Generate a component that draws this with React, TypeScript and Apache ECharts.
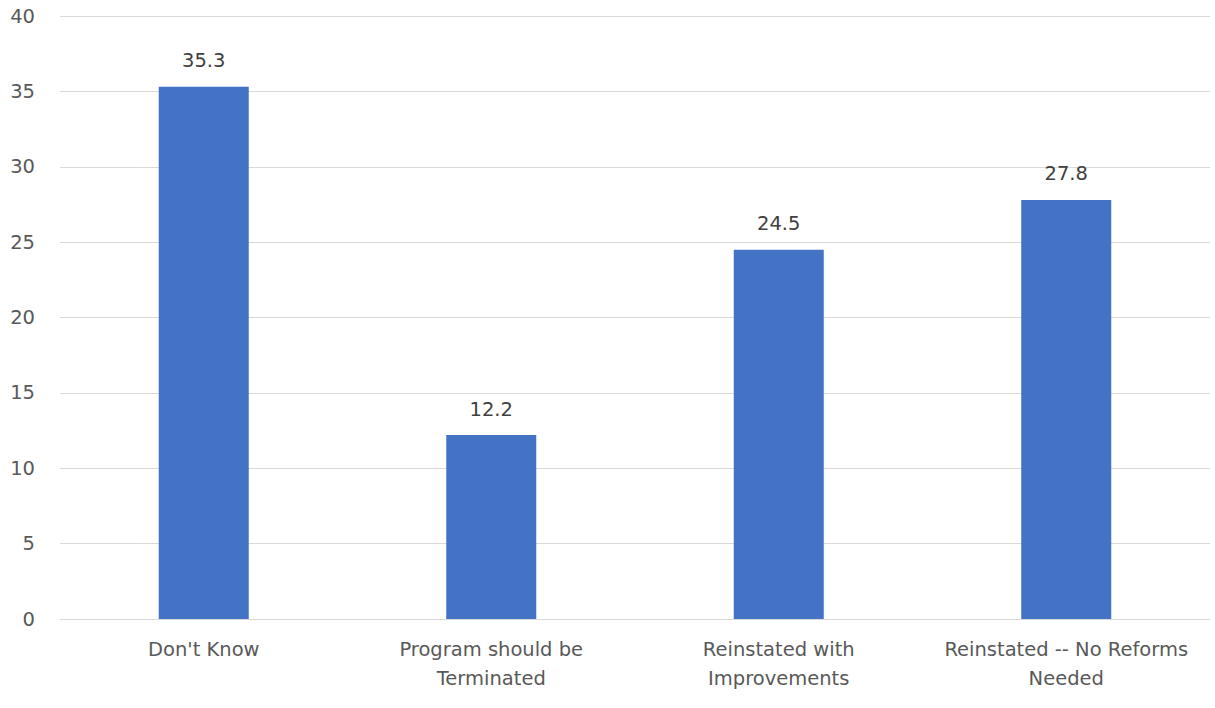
import React, { useEffect, useRef } from "react";
import * as echarts from "echarts";

const categories = [
  "Don't Know",
  "Program should be\nTerminated",
  "Reinstated with\nImprovements",
  "Reinstated -- No Reforms\nNeeded",
];
const values = [35.3, 12.2, 24.5, 27.8];
const yTicks = { min: 0, max: 40, interval: 5 };

export default function App() {
  const ref = useRef<HTMLDivElement>(null);
  useEffect(() => {
    document.body.style.margin = "0";
    const chart = echarts.init(ref.current!, undefined, { renderer: "svg" });
    const font = "'DejaVu Sans', 'Open Sans', sans-serif";
    chart.setOption({
      animation: false,
      backgroundColor: "#ffffff",
      grid: { left: 60, right: 5, top: 16, bottom: 89, containLabel: false },
      xAxis: {
        type: "category",
        data: categories,
        axisLine: { show: true, lineStyle: { color: "#d9d9d9", width: 1 } },
        axisTick: { show: false },
        axisLabel: {
          color: "#595959",
          fontSize: 19.5,
          fontFamily: font,
          lineHeight: 29,
          margin: 16,
          interval: 0,
        },
      },
      yAxis: {
        type: "value",
        min: yTicks.min,
        max: yTicks.max,
        interval: yTicks.interval,
        axisLine: { show: false },
        axisTick: { show: false },
        splitLine: { lineStyle: { color: "#d9d9d9", width: 1 } },
        axisLabel: {
          color: "#595959",
          fontSize: 19.5,
          fontFamily: font,
          margin: 25,
        },
      },
      series: [
        {
          type: "bar",
          data: values,
          barWidth: 90,
          itemStyle: { color: "#4472c4" },
          label: {
            show: true,
            position: "top",
            distance: 16,
            color: "#404040",
            fontSize: 19.5,
            fontFamily: font,
          },
        },
      ],
    });
    return () => chart.dispose();
  }, []);
  return <div ref={ref} style={{ width: 1215, height: 708 }} />;
}
